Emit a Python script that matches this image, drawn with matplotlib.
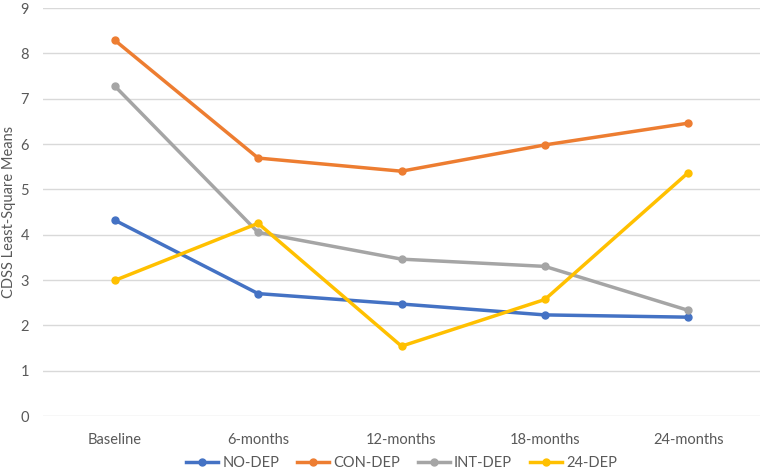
import matplotlib.pyplot as plt
import numpy as np

categories = ['Baseline', '6-months', '12-months', '18-months', '24-months']
no_dep = [4.32, 2.70, 2.47, 2.23, 2.18]
con_dep = [8.29, 5.69, 5.40, 5.98, 6.46]
int_dep = [7.28, 4.05, 3.46, 3.30, 2.33]
dep_24 = [2.99, 4.25, 1.54, 2.57, 5.37]

plt.rcParams['font.family'] = ['Lato', 'DejaVu Sans']
text_col = '#595959'

fig = plt.figure(figsize=(7.71, 4.74), dpi=100)
ax = fig.add_axes([43/771, 1-416/474, 717/771, 408/474])

x = np.arange(len(categories))
series = [(no_dep, 'NO-DEP', '#4472C4'),
          (con_dep, 'CON-DEP', '#ED7D31'),
          (int_dep, 'INT-DEP', '#A5A5A5'),
          (dep_24, '24-DEP', '#FFC000')]
for vals, name, col in series:
    ax.plot(x, vals, '-o', color=col, lw=2.5, ms=5, label=name)

ax.set_xlim(-0.5, len(categories)-0.5)
ax.set_ylim(0, 9)
ax.set_yticks(range(0, 10))
ax.set_xticks(x)
ax.set_xticklabels(categories)
ax.grid(axis='y', color='#d9d9d9', lw=1)
ax.set_axisbelow(True)
for s in ax.spines.values():
    s.set_visible(False)
ax.tick_params(length=0, colors=text_col, labelsize=10.5)
ax.tick_params(axis='x', pad=12)
ax.tick_params(axis='y', pad=10)
ax.set_ylabel('CDSS Least-Square Means', color=text_col, fontsize=10.5)
ax.yaxis.set_label_coords(-27/717, 0.5)

ax.legend(loc='center', bbox_to_anchor=(0.5, -0.115), ncol=4, frameon=False,
          fontsize=10.5, labelcolor=text_col, handlelength=2.2, columnspacing=1.2,
          handletextpad=0.3)

fig.savefig('out.png', dpi=100)
